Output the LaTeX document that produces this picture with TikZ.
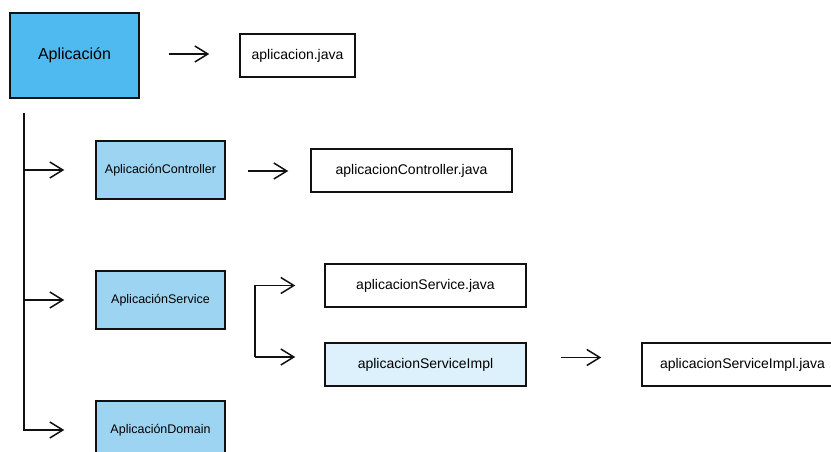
\documentclass[tikz,border=0pt]{standalone}
\usepackage{fontspec}
\setmainfont{Liberation Sans}
\usetikzlibrary{arrows.meta}

\definecolor{appblue}{HTML}{4FBAF0}
\definecolor{modblue}{HTML}{9DD4F2}
\definecolor{implblue}{HTML}{DDF1FC}
\definecolor{ink}{HTML}{111111}

\tikzset{
  box/.style={draw=ink, line width=1.5pt, inner sep=0pt, align=center},
  rootbox/.style={box, fill=appblue, minimum width=129pt, minimum height=85pt,
    font=\fontsize{16}{19}\selectfont},
  modbox/.style={box, fill=modblue, minimum width=129pt, minimum height=58pt,
    font=\fontsize{12.5}{15}\selectfont},
  filebox/.style={box, fill=white, minimum height=43pt,
    font=\fontsize{14}{17}\selectfont},
  arr/.style={draw=ink, line width=1.5pt,
    -{Straight Barb[length=13pt, width=16pt, line width=1.5pt]}},
}

\begin{document}
\begin{tikzpicture}[x=1pt, y=-1pt]
  \path[use as bounding box, clip] (0,0) rectangle (831,452);
  \fill[white] (0,0) rectangle (831,452);

  % application root and its source file
  \node[rootbox] (app) at (74.5,55.5) {Aplicación};
  \node[filebox, minimum width=115pt] (appjava) at (297.5,55.5) {aplicacion.java};

  % modules
  \node[modbox] (ctrl) at (160.5,170) {AplicaciónController};
  \node[modbox] (svc)  at (160.5,300) {AplicaciónService};
  \node[modbox] (dom)  at (160.5,430) {AplicaciónDomain};

  % module files
  \node[filebox, minimum width=201pt] (ctrljava) at (411.5,170.5) {aplicacionController.java};
  \node[filebox, minimum width=201pt] (svcjava)  at (425.5,285.5) {aplicacionService.java};
  \node[filebox, minimum width=201pt, fill=implblue] (impl) at (425.5,364.5) {aplicacionServiceImpl};
  \node[filebox, minimum width=201pt] (impljava) at (742.5,364.5) {aplicacionServiceImpl.java};

  % free-standing arrows between boxes
  \draw[arr, shorten <=29pt, shorten >=30pt] ([yshift=1.5pt]app.east) -- ([yshift=1.5pt]appjava.west);
  \draw[arr, shorten <=22pt, shorten >=22pt] ([yshift=-1pt]ctrl.east) -- ([yshift=-0.5pt]ctrljava.west);
  \draw[arr, shorten <=34pt, shorten >=40pt] ([yshift=7pt]impl.east) -- ([yshift=7pt]impljava.west);

  % trunk from the root down to the modules
  \coordinate (trunk) at (24,113);
  \draw[arr, shorten >=31pt] (trunk) |- (dom);
  \draw[arr, shorten >=31pt] (trunk |- ctrl) -- (ctrl);
  \draw[arr, shorten >=31pt] (trunk |- svc) -- (svc);

  % service fork to interface and implementation
  \coordinate (fork) at (255,357);
  \draw[arr, shorten >=29pt] (fork) |- (svcjava);
  \draw[arr, shorten >=29pt] (fork) -- (fork -| impl.west);
\end{tikzpicture}
\end{document}
